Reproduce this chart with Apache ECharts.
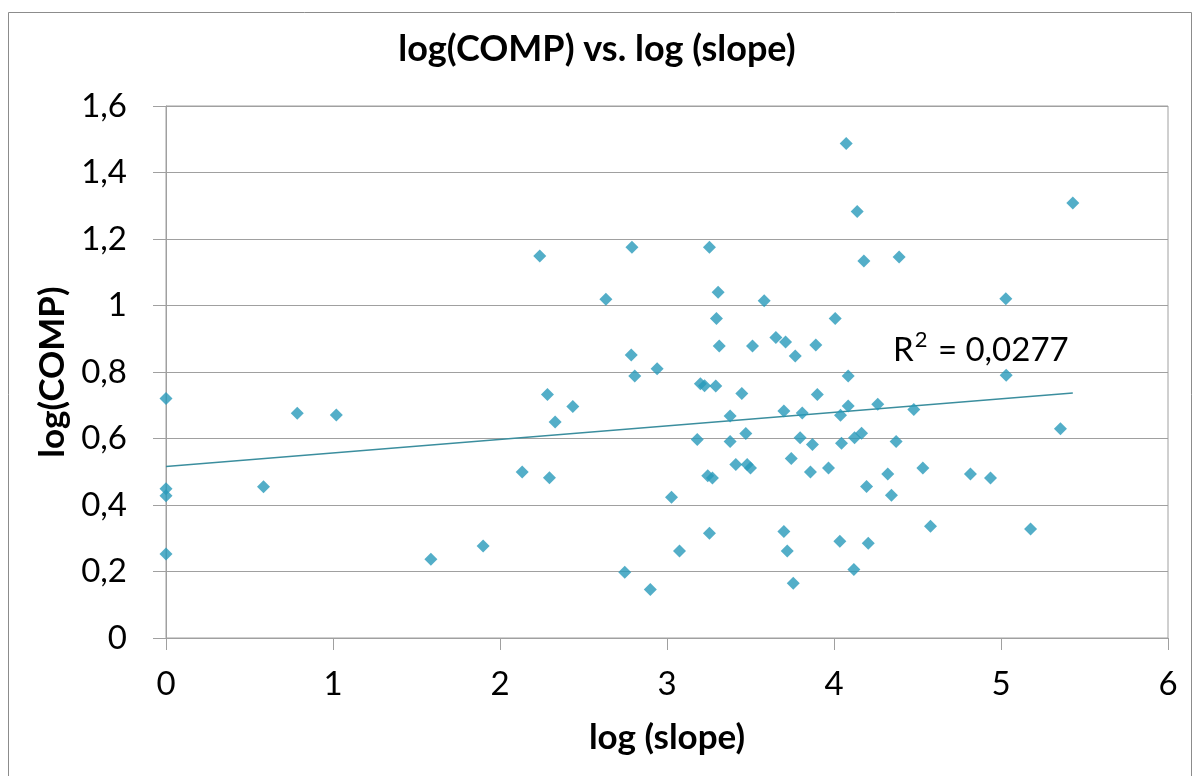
<!DOCTYPE html>
<html>
<head>
<meta charset="utf-8">
<script src="https://cdn.jsdelivr.net/npm/echarts@6/dist/echarts.min.js"></script>
<style>
html,body{margin:0;padding:0;background:#fff;}
#chart{width:1194px;height:776px;}
</style>
</head>
<body>
<div id="chart"></div>
<script>
// log(slope) values
const logSlope = [
  0, 0, 0, 0, 0.584, 0.786, 1.02, 1.586, 1.899, 2.133,
  2.238, 2.284, 2.296, 2.33, 2.436, 2.634, 2.747, 2.786, 2.79, 2.807,
  2.90, 2.941, 3.027, 3.075, 3.181, 3.20, 3.225, 3.244, 3.254, 3.254,
  3.272, 3.292, 3.296, 3.306, 3.313, 3.378, 3.378, 3.412, 3.448, 3.472,
  3.48, 3.50, 3.512, 3.582, 3.652, 3.70, 3.70, 3.71, 3.72, 3.744,
  3.756, 3.768, 3.797, 3.81, 3.859, 3.871, 3.891, 3.90, 3.967, 4.007,
  4.035, 4.039, 4.045, 4.073, 4.085, 4.085, 4.119, 4.123, 4.139, 4.165,
  4.179, 4.195, 4.205, 4.262, 4.322, 4.344, 4.372, 4.39, 4.478, 4.532,
  4.578, 4.817, 4.937, 5.029, 5.031, 5.177, 5.356, 5.43
];
// log(COMP) values
const logComp = [
  0.72, 0.449, 0.428, 0.253, 0.455, 0.676, 0.671, 0.237, 0.277, 0.499,
  1.149, 0.732, 0.482, 0.650, 0.696, 1.019, 0.198, 0.851, 1.175, 0.788,
  0.146, 0.810, 0.423, 0.262, 0.597, 0.765, 0.759, 0.488, 1.175, 0.315,
  0.481, 0.758, 0.961, 1.040, 0.878, 0.668, 0.591, 0.522, 0.735, 0.615,
  0.522, 0.511, 0.878, 1.014, 0.904, 0.683, 0.320, 0.890, 0.262, 0.540,
  0.165, 0.848, 0.602, 0.677, 0.499, 0.582, 0.881, 0.732, 0.511, 0.961,
  0.291, 0.670, 0.586, 1.487, 0.788, 0.698, 0.206, 0.602, 1.283, 0.616,
  1.134, 0.456, 0.285, 0.703, 0.493, 0.429, 0.591, 1.146, 0.687, 0.511,
  0.336, 0.493, 0.481, 1.020, 0.790, 0.328, 0.629, 1.308
];
// linear trend line endpoints
const trendX = [0, 5.43];
const trendY = [0.516, 0.737];
const r2Base = 'R';
const r2Sup = '2';
const r2Rest = ' = 0,0277';
const titleText = 'log(COMP) vs. log (slope)';
const xName = 'log (slope)';
const yName = 'log(COMP)';

const FONT = 'Lato, "Open Sans", sans-serif';
const points = logSlope.map((x, i) => [x, logComp[i]]);
const trend = trendX.map((x, i) => [x, trendY[i]]);

const chart = echarts.init(document.getElementById('chart'), null, {renderer: 'canvas'});
chart.setOption({
  backgroundColor: '#ffffff',
  animation: false,
  title: {
    text: titleText,
    left: 'center',
    top: 26,
    textStyle: {fontFamily: FONT, fontWeight: 'bold', fontSize: 36, color: '#000'}
  },
  grid: {
    left: 166, right: 26, top: 106, bottom: 138,
    show: true, borderColor: '#a0a0a0', borderWidth: 1, backgroundColor: 'transparent'
  },
  xAxis: {
    type: 'value', min: 0, max: 6, interval: 1,
    name: xName, nameLocation: 'middle', nameGap: 82,
    nameTextStyle: {fontFamily: FONT, fontWeight: 'bold', fontSize: 35, color: '#000'},
    axisLine: {show: true, onZero: false, lineStyle: {color: '#a0a0a0', width: 1}},
    axisTick: {show: true, inside: false, length: 12, lineStyle: {color: '#a0a0a0'}},
    axisLabel: {fontFamily: FONT, fontSize: 33, color: '#000', margin: 30},
    splitLine: {show: false}
  },
  yAxis: {
    type: 'value', min: 0, max: 1.6, interval: 0.2,
    name: yName, nameLocation: 'middle', nameGap: 93, nameRotate: 90,
    nameTextStyle: {fontFamily: FONT, fontWeight: 'bold', fontSize: 35, color: '#000'},
    axisLine: {show: true, onZero: false, lineStyle: {color: '#a0a0a0', width: 1}},
    axisTick: {show: true, inside: false, length: 13, lineStyle: {color: '#a0a0a0'}},
    axisLabel: {
      fontFamily: FONT, fontSize: 33, color: '#000', margin: 39,
      formatter: v => String(Math.round(v * 10) / 10).replace('.', ',')
    },
    splitLine: {show: true, lineStyle: {color: '#a0a0a0', width: 1}}
  },
  series: [
    {
      type: 'line', data: trend, showSymbol: false, symbol: 'none',
      lineStyle: {color: '#3b8e9e', width: 1.5}, silent: true, z: 2
    },
    {
      type: 'scatter', data: points, symbol: 'diamond', symbolSize: 13,
      itemStyle: {color: '#289aba'}, z: 3
    }
  ],
  graphic: [
    {
      type: 'rect', silent: true, z: -1,
      shape: {x: 8.5, y: 12.5, width: 1183, height: 800},
      style: {fill: 'none', stroke: '#8c8c8c', lineWidth: 1}
    },
    {
      type: 'text', left: 893, top: 329, silent: true,
      style: {
        text: '{n|' + r2Base + '}{s|' + r2Sup + '}{n|' + r2Rest + '}',
        rich: {
          n: {fontFamily: FONT, fontSize: 33, color: '#000', lineHeight: 38, verticalAlign: 'bottom'},
          s: {fontFamily: FONT, fontSize: 22, color: '#000', lineHeight: 38, verticalAlign: 'top', padding: [0, 2, 0, 1]}
        }
      }
    }
  ]
});
</script>
</body>
</html>
